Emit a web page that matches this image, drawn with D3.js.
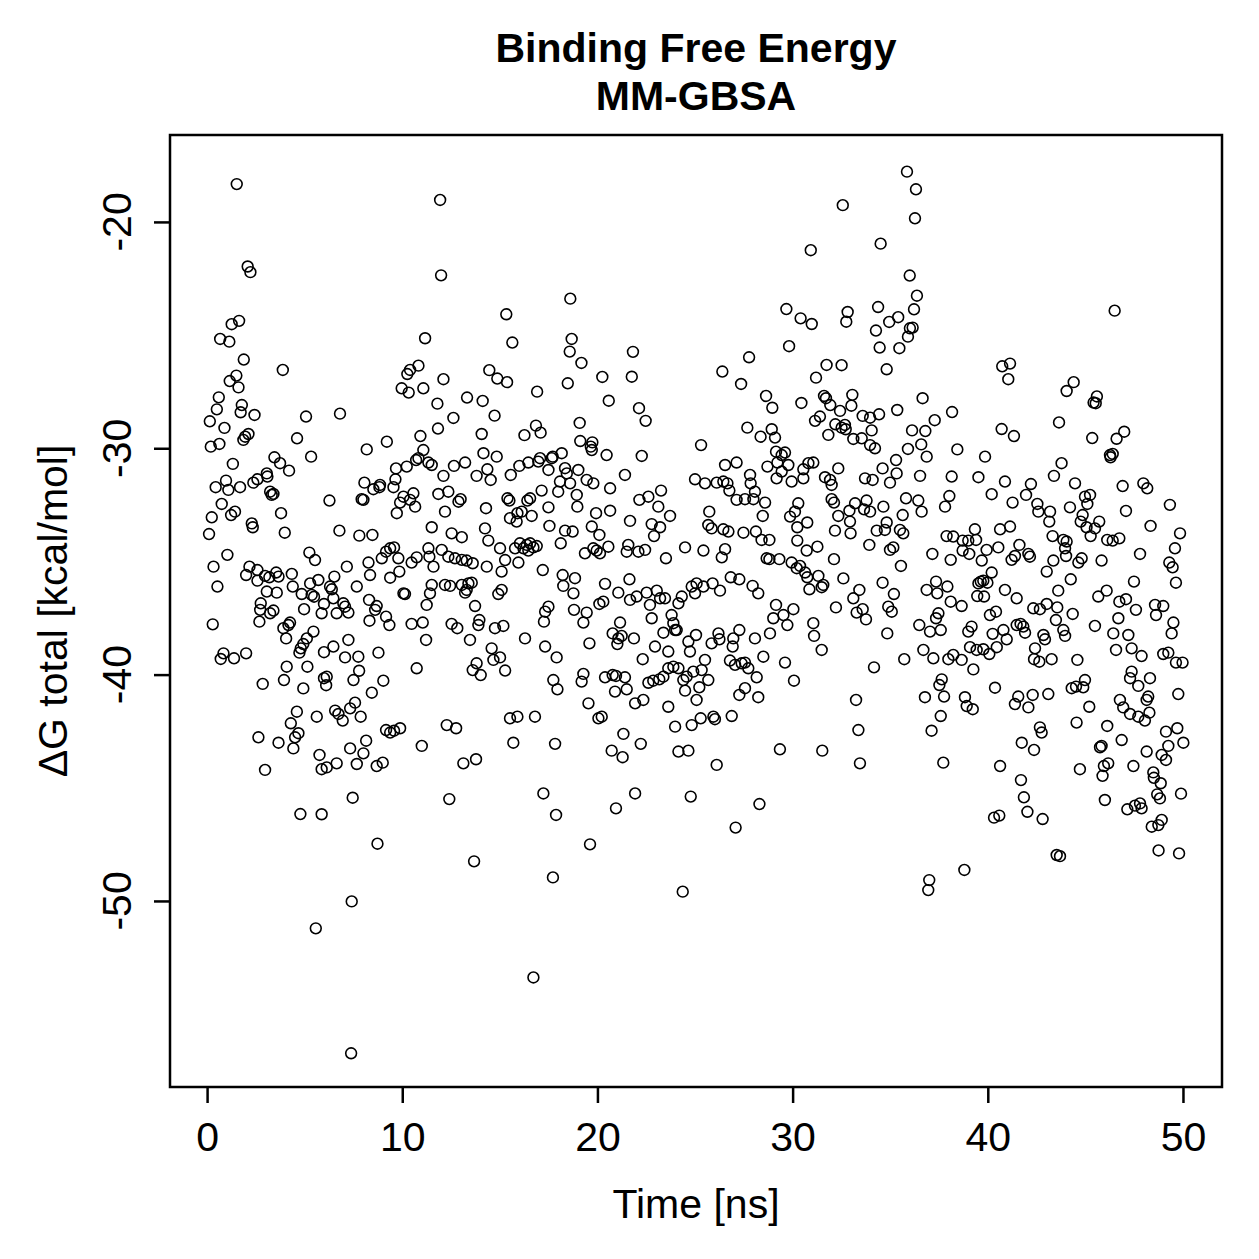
<!DOCTYPE html>
<html>
<head>
<meta charset="utf-8">
<script src="https://cdn.jsdelivr.net/npm/d3@7"></script>
<style>
  body { margin: 0; background: #fff; }
</style>
</head>
<body>
<script>
// chart text
const titleLines = ['Binding Free Energy', 'MM-GBSA'];
const xLabel = 'Time [ns]';
const yLabel = '\u0394G total [kcal/mol]';
const xTicks = [0, 10, 20, 30, 40, 50];
const yTicks = [-20, -30, -40, -50];

// [time (ns), dG total (kcal/mol)]
const samples = [
  [1.52,-18.33],[2.08,-21.97],[2.22,-22.22],[1.64,-24.37],[1.26,-24.52],[0.67,-25.17],[1.14,-25.29],[1.88,-26.08],[3.88,-26.54],[1.50,-26.79],
  [1.16,-27.03],[1.61,-27.31],[0.60,-27.75],[0.50,-28.28],[1.78,-28.09],[1.72,-28.41],[2.43,-28.53],[0.14,-28.81],[0.89,-29.10],[2.12,-29.37],
  [1.95,-29.49],[1.86,-29.63],[5.07,-28.60],[6.81,-28.47],[4.61,-29.56],[0.19,-29.93],[0.63,-29.81],[8.18,-30.05],[9.21,-29.71],[11.17,-25.14],
  [10.83,-26.35],[10.40,-26.54],[10.26,-26.72],[9.97,-27.35],[10.33,-27.54],[11.08,-27.35],[10.93,-29.46],[11.08,-30.08],
  [11.94,-19.03],[11.99,-22.36],[18.61,-23.39],[15.33,-24.08],[15.64,-25.33],[18.68,-25.17],[18.58,-25.73],[19.18,-26.23],[21.82,-25.74],[21.76,-26.84],
  [12.11,-26.95],[14.46,-26.55],[14.87,-26.92],[15.37,-27.08],[16.91,-27.50],[18.48,-27.13],[20.25,-26.85],[20.58,-27.90],[22.13,-28.23],[22.47,-28.79],
  [11.80,-28.03],[11.83,-29.13],[13.32,-27.76],[14.12,-27.91],[12.62,-28.66],[14.73,-28.56],[14.07,-29.37],[16.26,-29.42],[16.85,-29.00],[17.09,-29.31],
  [19.09,-28.88],[19.12,-29.68],[19.74,-29.74],[19.66,-29.93],
  [35.86,-17.78],[36.32,-18.56],[36.27,-19.84],[32.57,-19.26],[30.93,-21.25],[34.51,-20.96],[36.00,-22.37],[36.37,-23.26],[36.22,-23.86],[29.68,-23.85],
  [30.41,-24.26],[30.98,-24.51],[32.82,-23.98],[32.75,-24.41],[34.38,-23.76],[34.95,-24.42],[35.41,-24.21],[36.01,-24.70],[36.15,-24.67],[35.91,-25.07],
  [34.27,-24.80],[34.46,-25.55],[35.47,-25.58],[29.82,-25.49],[27.77,-25.98],[26.40,-26.61],[27.36,-27.16],[31.74,-26.32],[32.51,-26.33],[31.20,-26.88],
  [34.82,-26.51],[28.64,-27.69],[28.96,-28.21],[30.45,-28.00],[31.61,-27.69],[31.71,-27.79],[31.93,-28.09],[33.06,-27.64],[33.01,-28.12],[32.43,-28.35],
  [33.59,-28.57],[33.97,-28.65],[34.43,-28.50],[35.36,-28.31],[36.66,-27.79],[38.17,-28.40],[27.68,-29.09],[28.36,-29.49],[28.93,-29.16],[29.10,-29.53],
  [31.15,-28.79],[31.40,-28.60],[31.83,-29.41],[32.19,-28.94],[32.51,-29.09],[32.72,-29.16],[32.68,-28.97],[33.11,-29.59],[33.54,-29.56],[34.05,-29.21],
  [33.97,-29.86],[34.22,-30.00],[36.12,-29.21],[36.80,-29.24],[37.28,-28.76],[36.59,-29.83],[35.91,-30.03],[25.31,-29.86],
  [46.50,-23.92],[40.74,-26.38],[41.14,-26.26],[41.05,-26.95],[44.40,-27.08],[44.04,-27.47],[45.59,-27.71],[45.42,-27.98],[45.53,-28.01],[40.71,-29.15],
  [41.34,-29.46],[43.65,-28.86],[45.35,-29.55],[46.60,-29.58],[46.99,-29.27],[38.44,-30.05],[39.86,-30.37],
  [1.32,-30.69],[3.45,-30.40],[3.74,-30.66],[4.20,-30.99],[5.33,-30.37],
  [0.44,-31.72],[0.97,-31.43],[1.09,-31.84],[1.69,-31.72],[2.37,-31.52],[2.58,-31.37],[3.06,-31.11],[3.09,-31.25],[3.23,-31.92],[3.40,-32.02],
  [3.31,-32.06],[6.27,-32.31],[8.06,-31.52],[7.92,-32.25],[8.01,-32.28],
  [8.52,-31.81],[8.86,-31.62],[8.83,-31.72],[9.55,-31.72],[9.68,-30.89],[9.65,-31.37],[10.23,-30.81],[10.71,-30.52],[10.83,-30.44],[11.34,-30.63],[11.51,-30.74],
  [9.89,-32.40],[10.06,-32.14],[10.40,-32.28],[10.57,-31.99],[10.66,-32.58],[9.72,-32.87],
  [0.75,-32.46],[1.23,-32.95],[1.43,-32.80],[0.24,-33.05],[2.29,-33.32],[2.34,-33.49],[3.79,-32.87],[0.10,-33.79],[3.98,-33.73],[6.78,-33.64],
  [7.80,-33.86],[8.47,-33.83],[11.51,-33.49],
  [1.04,-34.71],[0.33,-35.23],[0.53,-36.11],
  [2.17,-35.23],[2.00,-35.60],[2.58,-35.38],[2.58,-35.85],[2.97,-35.64],[3.19,-35.70],[3.54,-35.49],[3.66,-35.67],[4.34,-35.55],[3.06,-36.33],
  [3.57,-36.38],[4.39,-36.11],[5.24,-34.61],[5.53,-34.94],[7.16,-35.23],
  [8.27,-35.05],[8.35,-35.60],[8.95,-34.86],[9.17,-34.57],[9.38,-34.42],[9.58,-34.38],[9.80,-34.86],[9.38,-35.72],[9.85,-35.45],[10.48,-35.05],
  [10.74,-34.82],[11.34,-34.42],[11.39,-34.79],[11.60,-35.23],
  [5.28,-35.97],[5.70,-35.82],[4.85,-36.44],[5.36,-36.48],[5.48,-36.56],[5.99,-36.88],[6.30,-36.11],[6.39,-36.23],[6.52,-35.67],[6.47,-36.63],
  [6.64,-37.29],[6.98,-36.85],[7.07,-37.00],[7.24,-37.26],[5.87,-37.29],[4.97,-37.11],[7.67,-36.11],
  [8.30,-36.70],[8.69,-36.97],[8.61,-37.14],[9.17,-37.44],[9.34,-37.81],[8.32,-37.62],[10.06,-36.41],[10.14,-36.44],
  [11.25,-36.92],[11.42,-36.41],[11.51,-36.04],[10.48,-37.76],[11.05,-37.70],[11.22,-38.47],
  [2.75,-36.85],[2.72,-37.14],[3.23,-37.29],[3.40,-37.17],[2.68,-37.66],[0.29,-37.78],
  [3.91,-37.95],[4.17,-37.81],[4.25,-37.70],[4.05,-38.40],[5.45,-38.10],[5.11,-38.40],[4.93,-38.65],[4.80,-38.84],[4.73,-39.03],
  [7.24,-38.47],[6.47,-38.76],[5.99,-39.01],[7.07,-39.24],[7.75,-39.21],[7.79,-39.83],[8.78,-39.03],[10.74,-39.72],
  [0.84,-39.06],[0.70,-39.31],[1.38,-39.28],[2.00,-39.06],[4.08,-39.65],[3.94,-40.24],[2.85,-40.41],[5.14,-39.65],[4.93,-40.61],
  [5.99,-40.16],[6.13,-40.09],[6.10,-40.47],[7.50,-40.24],[9.03,-40.27],[8.44,-40.80],
  [4.60,-41.64],[4.29,-42.15],[4.68,-42.59],[4.51,-42.77],[4.42,-43.26],[2.63,-42.77],[3.66,-43.01],[5.62,-41.86],
  [6.56,-41.59],[6.73,-41.74],[6.95,-42.03],[7.33,-41.49],[7.58,-41.24],[7.87,-41.86],
  [9.17,-42.45],[9.38,-42.56],[9.58,-42.48],[9.89,-42.37],[11.00,-43.15],
  [5.76,-43.55],[7.33,-43.26],[8.01,-43.48],[8.15,-42.92],[8.69,-44.04],[9.00,-43.89],[7.67,-43.95],[6.64,-43.92],[6.13,-44.10],[5.87,-44.18],[2.97,-44.21],
  [7.46,-45.44],[4.78,-46.16],[5.87,-46.17],[8.73,-47.47],[7.41,-50.02],[5.57,-51.21],[7.38,-56.73],
  [12.41,-45.50],[17.23,-45.25],[17.88,-46.20],[20.95,-45.91],[21.93,-45.25],[19.62,-47.50],[13.68,-48.25],[17.72,-48.96],[16.72,-53.38],[24.37,-49.59],[24.78,-45.39],
  [28.30,-45.72],[27.08,-46.76],[37.00,-49.08],[36.95,-49.52],
  [41.70,-44.66],[41.85,-45.42],[42.03,-46.06],[42.81,-46.38],[40.32,-46.32],[40.59,-46.23],[43.53,-47.97],[43.70,-48.02],[38.80,-48.63],[45.88,-44.47],
  [46.00,-45.54],[48.48,-44.32],[48.51,-44.56],[48.86,-44.80],[48.68,-45.29],[48.82,-45.47],[47.15,-45.95],[47.54,-45.79],[47.80,-45.69],[47.88,-45.91],
  [49.90,-45.26],[48.91,-46.42],[48.40,-46.72],[48.74,-46.65],[48.75,-47.77],[49.80,-47.90],
  [14.16,-30.22],[14.84,-30.37],[12.11,-31.22],[12.65,-30.78],[13.22,-30.63],[13.81,-31.22],[14.36,-30.93],[14.53,-31.40],
  [15.56,-31.18],[16.00,-30.78],[16.46,-30.63],[16.97,-30.59],[17.06,-30.44],[17.49,-30.96],[17.66,-30.44],[17.71,-30.37],[18.17,-30.22],
  [18.34,-30.88],[18.43,-31.11],[18.08,-31.47],[18.60,-31.55],[19.02,-30.96],[19.45,-31.40],[19.79,-31.55],[20.65,-31.77],[21.41,-31.18],[20.47,-30.30],
  [19.71,-30.08],[22.27,-30.34],
  [11.85,-32.02],[12.36,-31.92],[12.88,-32.36],[12.99,-32.25],[12.19,-32.80],[14.29,-32.65],
  [15.39,-32.21],[15.49,-32.31],[16.41,-32.31],[16.55,-32.21],[17.14,-31.87],[17.49,-32.61],[17.99,-31.92],[18.94,-32.06],[18.97,-32.58],
  [15.52,-33.09],[15.90,-32.87],[16.12,-32.80],[15.86,-33.24],[16.63,-32.99],[17.54,-33.43],
  [12.53,-33.76],[13.05,-33.93],[14.24,-33.54],[14.41,-34.08],
  [19.93,-32.87],[19.71,-33.46],[20.10,-33.83],[20.65,-32.76],[21.67,-33.21],
  [22.15,-32.28],[22.61,-32.14],[23.26,-31.87],[23.12,-32.58],[23.72,-32.99],[22.78,-33.35],[23.21,-33.49],[22.90,-33.88],
  [18.34,-33.64],[18.73,-33.68],[18.12,-34.20],
  [15.01,-34.42],[15.78,-34.42],[16.03,-34.20],[16.21,-34.42],[16.38,-34.27],[16.55,-34.20],[16.72,-34.38],[16.89,-34.32],[16.46,-34.52],[15.95,-35.05],[15.27,-34.94],
  [12.02,-34.49],[12.36,-34.79],[12.70,-34.86],[13.05,-34.93],[13.30,-34.96],[13.61,-35.08],[14.33,-35.23],[15.09,-35.45],
  [19.36,-34.64],[19.79,-34.42],[19.96,-34.52],[20.13,-34.64],[20.56,-34.35],
  [21.58,-34.27],[21.50,-34.57],[22.10,-34.57],[22.44,-34.49],[23.51,-34.86],[24.49,-34.38],
  [17.20,-35.38],[18.22,-35.60],[18.25,-36.08],[18.85,-35.74],[18.77,-36.41],[20.39,-35.99],[21.07,-36.38],[21.64,-35.79],
  [12.19,-36.04],[12.45,-36.08],[13.05,-36.04],[13.30,-36.26],[13.39,-35.97],[13.56,-35.94],[13.22,-36.38],[13.73,-36.97],[14.92,-36.44],[15.09,-36.26],
  [21.67,-36.70],[22.01,-36.55],[22.52,-36.38],[23.04,-36.29],[23.21,-36.63],[23.46,-36.63],[22.69,-36.92],[22.78,-37.51],
  [24.15,-36.85],[24.32,-36.55],[23.80,-37.37],[23.89,-37.73],[24.06,-38.03],[24.83,-36.11],[25.00,-36.41],
  [20.10,-36.88],[20.30,-36.78],[19.45,-37.26],[18.80,-37.14],[19.28,-37.70],[17.49,-37.00],[17.32,-37.22],[17.26,-37.66],
  [13.95,-37.59],[13.90,-37.81],[12.53,-37.76],[12.82,-37.95],[14.75,-37.95],[15.18,-37.85],
  [21.16,-37.70],[20.78,-38.18],[21.07,-38.40],[21.24,-38.29],[21.02,-38.65],[21.87,-38.40],[23.38,-38.15],[23.98,-38.03],
  [13.47,-38.47],[16.29,-38.40],[17.32,-38.76],[17.91,-39.24],[19.59,-38.62],[14.58,-38.84],[14.67,-39.35],[15.01,-39.24],[15.27,-39.82],
  [13.81,-39.50],[13.61,-39.80],[14.02,-40.02],[22.32,-39.32],[22.95,-38.76],[23.63,-38.98],[24.66,-38.54],[24.74,-38.98],
  [17.74,-40.24],[17.95,-40.65],[19.28,-39.97],[19.19,-40.31],
  [20.39,-40.12],[20.78,-40.02],[20.95,-40.06],[21.41,-40.12],[20.90,-40.75],[21.50,-40.65],[21.93,-41.27],[22.35,-41.12],[19.54,-41.27],
  [22.61,-40.36],[22.86,-40.27],[23.17,-40.21],[23.38,-40.09],[23.63,-39.72],[23.89,-39.65],[24.15,-39.72],[24.40,-40.24],[24.57,-40.09],[24.49,-40.71],
  [23.63,-41.42],[15.52,-41.93],[15.90,-41.86],[16.80,-41.86],[20.05,-41.93],[20.22,-41.86],[23.98,-42.30],[24.83,-42.23],[12.28,-42.23],[12.76,-42.37],
  [21.33,-42.62],[22.22,-43.06],[20.73,-43.36],[21.29,-43.65],[15.69,-43.01],[17.83,-43.06],[13.13,-43.92],[13.78,-43.74],[24.15,-43.40],[24.66,-43.36],
  [29.15,-30.15],[29.44,-30.30],[29.61,-30.19],[36.87,-30.37],[26.54,-30.74],[27.13,-30.63],
  [28.71,-30.81],[29.22,-30.63],[29.78,-30.74],[29.44,-31.03],[29.18,-31.33],[29.95,-31.47],[30.55,-31.33],[30.81,-30.66],[31.06,-30.63],[30.55,-30.93],
  [32.34,-30.89],[31.66,-31.28],[31.92,-31.40],[32.00,-31.62],
  [33.71,-31.33],[34.10,-31.40],[34.61,-30.89],[34.99,-31.52],[35.30,-30.52],[35.33,-31.11],[36.53,-31.22],[38.15,-31.25],
  [25.00,-31.37],[25.51,-31.55],[26.11,-31.52],[26.45,-31.47],[26.66,-31.55],[26.76,-31.87],[27.13,-32.28],[27.56,-32.25],[27.82,-31.18],[27.85,-31.55],
  [28.07,-31.92],[27.99,-32.25],[28.59,-32.40],
  [25.73,-32.80],[25.68,-33.39],[25.85,-33.54],[26.45,-33.58],[26.71,-33.68],[27.48,-33.73],[28.12,-33.68],[28.41,-34.05],[28.81,-34.05],[28.47,-32.99],
  [30.29,-32.43],[30.12,-32.80],[29.87,-33.02],[30.24,-33.49],[30.75,-33.28],[30.24,-34.08],[30.72,-34.52],[31.27,-34.35],
  [32.00,-32.25],[32.12,-32.40],[32.34,-32.99],[32.91,-32.76],[32.94,-33.24],[32.97,-33.76],[32.17,-33.64],[33.20,-32.43],[33.66,-32.70],[33.79,-32.31],
  [33.97,-32.80],[34.65,-32.58],[34.31,-33.64],[34.82,-33.28],[34.73,-33.61],[35.50,-33.61],[35.67,-33.76],[35.81,-32.21],[36.44,-32.31],[36.61,-32.80],
  [35.64,-32.95],[33.93,-34.27],
  [37.81,-32.58],[38.03,-32.11],[37.89,-33.88],[38.23,-33.90],[38.10,-34.93],[34.99,-34.49],[35.16,-34.38],[37.16,-34.67],
  [25.43,-34.52],[26.37,-34.82],[26.54,-34.46],
  [28.67,-34.86],[28.81,-34.90],[29.32,-34.90],[29.95,-35.05],[30.21,-35.30],[30.38,-35.20],[30.64,-35.49],[30.75,-35.70],[31.32,-35.64],[31.49,-36.14],
  [31.57,-36.04],[30.86,-36.23],[32.12,-34.90],[32.60,-35.75],[35.55,-35.20],
  [25.08,-35.97],[25.43,-36.11],[25.90,-35.97],[26.28,-36.29],[26.83,-35.70],[27.27,-35.79],[27.95,-36.08],[28.24,-36.41],
  [33.42,-36.26],[33.11,-36.63],[33.28,-37.26],[33.59,-37.11],[33.76,-37.56],[32.22,-37.03],
  [34.61,-35.94],[35.19,-36.44],[34.90,-37.00],[35.08,-37.22],
  [36.87,-36.26],[37.35,-35.89],[37.41,-36.41],[37.93,-36.11],[38.10,-36.78],
  [37.47,-37.29],[37.35,-37.51],[37.59,-38.03],[37.04,-38.10],[36.49,-37.81],
  [29.15,-36.92],[29.01,-37.51],[29.53,-37.37],[29.73,-37.81],[30.04,-37.11],[31.06,-37.73],[31.10,-38.29],[31.49,-38.91],
  [28.84,-38.18],[28.07,-38.40],[28.50,-39.21],[27.27,-38.03],[26.96,-38.40],[26.20,-38.18],[26.25,-38.44],[25.85,-38.62],[25.05,-38.25],[26.93,-38.76],
  [26.79,-39.38],[27.05,-39.57],[27.39,-39.50],[27.56,-39.47],[27.73,-39.72],[28.16,-40.12],
  [25.51,-39.35],[25.34,-39.80],[25.68,-40.24],[24.91,-39.87],[25.22,-40.56],[25.08,-41.12],
  [27.56,-40.60],[27.27,-40.90],[28.24,-41.00],[29.61,-39.47],[30.07,-40.27],[34.85,-38.18],
  [35.72,-39.32],[36.70,-38.91],[37.21,-39.28],[37.98,-39.32],[38.23,-39.13],[34.17,-39.68],
  [37.64,-40.21],[37.52,-40.46],[36.78,-41.00],[37.76,-40.97],[33.25,-41.12],
  [25.29,-41.93],[25.94,-41.86],[26.02,-41.97],[26.88,-41.83],[37.59,-41.83],[37.12,-42.48],[33.37,-42.45],
  [29.35,-43.30],[31.52,-43.36],[26.11,-43.99],[33.45,-43.92],[37.72,-43.89],
  [46.26,-30.30],[46.40,-30.25],[46.29,-30.40],
  [39.52,-31.28],[40.88,-31.47],[42.21,-31.58],[41.96,-32.06],[43.39,-31.22],[43.78,-30.66],[44.47,-31.55],[40.20,-32.03],
  [41.27,-32.40],[42.54,-32.46],[42.59,-32.80],[43.19,-32.80],[43.15,-33.24],[44.21,-32.61],[44.98,-32.14],[45.24,-32.06],[45.10,-32.46],[44.86,-32.95],
  [44.76,-33.24],[45.06,-33.49],[45.27,-33.88],[45.71,-33.24],[45.49,-33.54],
  [46.91,-31.67],[47.08,-32.77],[47.97,-31.55],[48.17,-31.77],[49.33,-32.50],[48.34,-33.43],[49.85,-33.76],[49.59,-34.42],[49.30,-35.05],[49.47,-35.26],
  [49.64,-35.94],[47.80,-34.67],[47.49,-35.89],[46.12,-34.05],[46.40,-34.08],[46.74,-33.98],[45.83,-34.96],
  [38.71,-34.08],[39.00,-34.08],[39.34,-33.58],[39.40,-34.05],[40.63,-33.58],[41.14,-33.46],[40.54,-34.38],[39.94,-34.49],[39.69,-34.96],[39.05,-34.67],
  [38.71,-34.52],
  [41.62,-34.27],[41.22,-34.93],[41.39,-34.76],[42.08,-34.67],[42.16,-34.79],[43.32,-33.88],[43.36,-34.96],[43.02,-35.45],[43.87,-34.05],[44.04,-34.12],
  [43.96,-34.42],[44.01,-34.76],[44.64,-35.05],[44.81,-34.86],[44.25,-35.79],[43.61,-36.29],
  [40.20,-35.49],[39.52,-35.97],[39.64,-35.89],[39.77,-35.85],[39.98,-35.94],[39.46,-36.53],[39.81,-36.55],[40.88,-36.26],[41.48,-36.63],
  [38.66,-36.97],[40.11,-37.37],[40.42,-37.22],[39.17,-37.88],[39.00,-38.10],
  [42.33,-37.07],[42.67,-37.11],[43.02,-36.88],[43.56,-37.03],[43.49,-37.59],[43.87,-38.03],[43.96,-38.29],[44.35,-37.32],
  [45.66,-36.55],[46.09,-36.29],[45.49,-37.85],
  [46.74,-36.78],[47.08,-36.67],[47.59,-37.14],[46.69,-37.51],[46.43,-38.18],[47.20,-38.25],[46.57,-38.91],[47.37,-38.84],[47.88,-39.18],
  [48.57,-36.92],[48.99,-36.97],[48.62,-37.37],[49.51,-37.70],[49.42,-38.18],[48.99,-39.09],[49.25,-39.03],[49.64,-39.47],[49.98,-39.47],
  [41.48,-37.81],[41.68,-37.76],[41.82,-37.88],[41.91,-38.15],[40.25,-38.20],[40.80,-38.03],[40.97,-38.44],[40.46,-38.79],[40.08,-39.09],[39.77,-38.88],
  [39.43,-38.91],[39.09,-38.79],[38.66,-39.35],[39.26,-39.77],
  [42.42,-38.84],[42.85,-38.25],[42.93,-38.44],[42.37,-39.32],[42.64,-39.43],[43.27,-39.32],[44.59,-39.35],[40.37,-40.58],
  [38.83,-41.00],[38.92,-41.39],[39.23,-41.53],[41.56,-40.97],[41.39,-41.30],[42.08,-41.45],[42.30,-40.90],[43.10,-40.86],
  [44.30,-40.60],[44.52,-40.53],[44.89,-40.56],[44.98,-40.24],[45.20,-41.42],[44.55,-42.12],
  [46.77,-41.12],[46.94,-41.45],[47.29,-41.74],[47.71,-41.86],[48.05,-42.03],[48.28,-41.68],[48.22,-40.97],[48.14,-41.12],[47.37,-39.87],[47.29,-40.16],
  [47.71,-40.50],[48.31,-40.16],[49.76,-40.86],
  [46.12,-42.27],[46.86,-42.89],[45.83,-43.15],[45.75,-43.21],[46.17,-43.92],[45.95,-44.04],[47.46,-44.04],[48.14,-43.40],[49.13,-42.52],[49.71,-42.37],
  [49.25,-43.15],[50.02,-43.01],[48.91,-43.55],[49.13,-43.77],
  [42.67,-42.33],[42.76,-42.56],[41.74,-43.01],[42.37,-43.33],[40.63,-44.04],[44.72,-44.18]
];

const WIDTH = 1259, HEIGHT = 1259;
const plot = { left: 170, right: 1222, top: 135, bottom: 1087 };
const FONT = '"Liberation Sans", Arial, Helvetica, sans-serif';

const svg = d3.select('body').append('svg')
    .attr('width', WIDTH).attr('height', HEIGHT)
    .style('font-family', FONT);

const x = d3.scaleLinear().domain([-1.9, 52]).range([plot.left, plot.right]);
const y = d3.scaleLinear().domain([-58.22, -16.16]).range([plot.bottom, plot.top]);

// points (pch = 1)
svg.append('g').selectAll('circle').data(samples).enter().append('circle')
    .attr('cx', d => x(d[0]))
    .attr('cy', d => y(d[1]))
    .attr('r', 5.4)
    .attr('fill', 'none')
    .attr('stroke', '#000')
    .attr('stroke-width', 1.6);

// box
svg.append('rect')
    .attr('x', plot.left).attr('y', plot.top)
    .attr('width', plot.right - plot.left).attr('height', plot.bottom - plot.top)
    .attr('fill', 'none').attr('stroke', '#000').attr('stroke-width', 2.5);

// x axis
const xAxis = svg.append('g')
    .attr('transform', `translate(0,${plot.bottom})`)
    .call(d3.axisBottom(x).tickValues(xTicks).tickSize(16).tickSizeOuter(0).tickPadding(19));
xAxis.select('.domain').remove();
xAxis.selectAll('line').attr('stroke-width', 2.5);
xAxis.selectAll('text').attr('font-size', 41).attr('font-family', FONT).attr('fill', '#000');

// y axis (labels parallel to the axis, as in R)
const yAxis = svg.append('g')
    .attr('transform', `translate(${plot.left},0)`)
    .call(d3.axisLeft(y).tickValues(yTicks).tickSize(16).tickSizeOuter(0));
yAxis.select('.domain').remove();
yAxis.selectAll('line').attr('stroke-width', 2.5);
yAxis.selectAll('text').remove();
svg.append('g').selectAll('text').data(yTicks).enter().append('text')
    .attr('transform', d => `translate(131,${y(d)}) rotate(-90)`)
    .attr('text-anchor', 'middle')
    .attr('font-size', 41)
    .text(d => String(d));

// titles and labels
svg.append('g').selectAll('text').data(titleLines).enter().append('text')
    .attr('x', (plot.left + plot.right) / 2)
    .attr('y', (d, i) => 62 + i * 48)
    .attr('text-anchor', 'middle')
    .attr('font-size', 41)
    .attr('font-weight', 'bold')
    .text(d => d);

svg.append('text')
    .attr('x', (plot.left + plot.right) / 2).attr('y', 1218)
    .attr('text-anchor', 'middle').attr('font-size', 41)
    .text(xLabel);

svg.append('text')
    .attr('transform', `translate(67,${(plot.top + plot.bottom) / 2}) rotate(-90)`)
    .attr('text-anchor', 'middle').attr('font-size', 41)
    .text(yLabel);
</script>
</body>
</html>
